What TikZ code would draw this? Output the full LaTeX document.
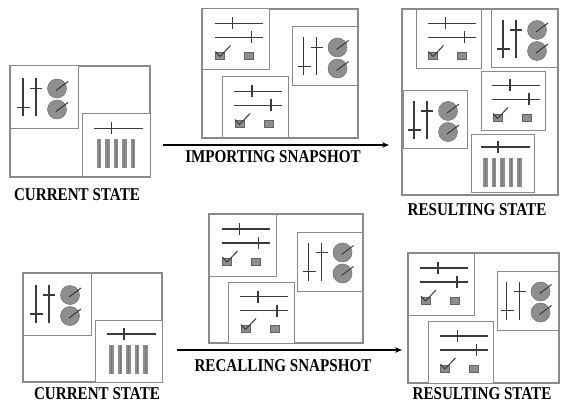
\documentclass[tikz,border=0pt]{standalone}
\usepackage{fontspec}
\newfontfamily\lblfont[FakeStretch=0.84]{Liberation Serif}
\usetikzlibrary{arrows.meta}
\definecolor{pbord}{HTML}{8A8A8A}
\definecolor{ink}{HTML}{3A3A3A}
\definecolor{knob}{HTML}{8E8E8E}
\tikzset{
 outerbox/.style={draw=pbord, line width=1.1pt, fill=white},
 panelbox/.style={draw=pbord, line width=1pt, fill=white},
 ctl/.style={draw=ink, line width=1.4pt},
 lbl/.style={font=\lblfont\bfseries\fontsize{18}{20}\selectfont, text=black, inner sep=0pt},
 arr/.style={-{Stealth[length=7pt,width=5.5pt]}, line width=1.3pt, black},
 kwidget/.pic={
   \draw[ctl] (-21,-19) -- (-21,19);
   \draw[ctl] (-27,10) -- (-14,10);
   \draw[ctl] (-8,-19) -- (-8,19);
   \draw[ctl] (-14,-9) -- (-2,-9);
   \foreach \ky in {-9,12}{
     \filldraw[fill=knob, draw=knob!80!black, line width=0.5pt] (13,\ky) circle[radius=9.5];
     \draw[ink, line width=1pt] (12,\ky+2) -- (24,\ky-7);
   }
 },
 hwidget/.pic={
   \draw[ctl] (-21,-16) -- (27,-16);
   \draw[ctl] (-3,-22) -- (-3,-10);
   \draw[ctl] (-21,-2) -- (27,-2);
   \draw[ctl] (16,-8) -- (16,4);
   \filldraw[fill=knob, draw=knob!70!black, line width=0.5pt] (-20,13) rectangle (-11,20);
   \draw[ink, line width=1pt] (-20,12) -- (-15.5,17) -- (-5,6);
   \filldraw[fill=knob, draw=knob!70!black, line width=0.5pt] (9,13) rectangle (18,20);
 },
 fwidget/.pic={
   \draw[ctl] (-22,-17) -- (27,-17);
   \draw[ctl] (-4.5,-23) -- (-4.5,-11);
   \foreach \bx in {-17,-8.5,0,8.5,17}{
     \fill[knob] (\bx-2.3,-6) rectangle (\bx+2.3,23);
     \draw[ink!80, line width=0.8pt, dash pattern=on 0.8pt off 1.2pt] (\bx,-5) -- (\bx,22);
   }
 }
}
\begin{document}
\begin{tikzpicture}[x=1pt,y=-1pt]
\useasboundingbox[fill=white] (0,0) rectangle (561,403);
% ---- top left: current state
\draw[outerbox] (10,66) rectangle (150,177);
\draw[panelbox] (10,66) rectangle (78,129);   \pic at (44,97.5) {kwidget};
\draw[panelbox] (82,114) rectangle (150,177); \pic at (116,145.5) {fwidget};
\node[lbl] (cs1) at (77,195) {CURRENT STATE};
% ---- top middle: snapshot
\draw[outerbox] (202,9) rectangle (358,138);
\draw[panelbox] (202,9) rectangle (269,70);   \pic at (235.5,39.5) {hwidget};
\draw[panelbox] (292,27) rectangle (357,86);  \pic at (324.5,56.5) {kwidget};
\draw[panelbox] (222,77) rectangle (288,138); \pic at (255,107.5) {hwidget};
\coordinate (a1s) at (163,145);
\coordinate (a1e) at (389,145);
\draw[arr] (a1s) -- (a1e);
\node[lbl] (imp) at (273,157) {IMPORTING SNAPSHOT};
% ---- top right: resulting state
\draw[outerbox] (402,9) rectangle (558,195);
\draw[panelbox] (416,10) rectangle (481,69);  \pic at (448.5,39.5) {hwidget};
\draw[panelbox] (491,10) rectangle (557,68);  \pic at (524,39) {kwidget};
\draw[panelbox] (481,72) rectangle (545,131); \pic at (513,101.5) {hwidget};
\draw[panelbox] (403,91) rectangle (467,149); \pic at (435,120) {kwidget};
\draw[panelbox] (471,135) rectangle (534,193); \pic at (502.5,164) {fwidget};
\node[lbl] (rs1) at (477,210) {RESULTING STATE};
% ---- bottom left: current state
\draw[outerbox] (23,273) rectangle (162,382);
\draw[panelbox] (23,273) rectangle (91,335);  \pic at (57,304) {kwidget};
\draw[panelbox] (95,320) rectangle (162,382); \pic at (128.5,351) {fwidget};
\node[lbl] (cs2) at (97,394) {CURRENT STATE};
% ---- bottom middle: snapshot
\draw[outerbox] (209,214) rectangle (363,343);
\draw[panelbox] (209,214) rectangle (276,276); \pic at (242.5,245) {hwidget};
\draw[panelbox] (297,232) rectangle (362,291); \pic at (329.5,261.5) {kwidget};
\draw[panelbox] (228,282) rectangle (294,343); \pic at (261,312.5) {hwidget};
\coordinate (a2s) at (177,350);
\coordinate (a2e) at (402,350);
\draw[arr] (a2s) -- (a2e);
\node[lbl] (rec) at (283,366) {RECALLING SNAPSHOT};
% ---- bottom right: resulting state
\draw[outerbox] (408,253) rectangle (559,383);
\draw[panelbox] (408,253) rectangle (474,315); \pic at (441,284) {hwidget};
\draw[panelbox] (497,271) rectangle (558,330); \pic at (527.5,300.5) {kwidget};
\draw[panelbox] (428,321) rectangle (493,383); \pic at (460.5,352) {hwidget};
\node[lbl] (rs2) at (482,394) {RESULTING STATE};
\end{tikzpicture}
\end{document}
